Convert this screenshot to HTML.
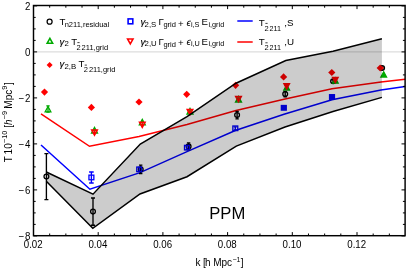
<!DOCTYPE html><html><head><meta charset="utf-8"><style>html,body{margin:0;padding:0;background:#fff}body{width:407px;height:270px;overflow:hidden}</style></head><body><svg width="407" height="270" viewBox="0 0 407 270" style="display:block;will-change:transform;font-family:'Liberation Sans',sans-serif">
<rect width="407" height="270" fill="#fff"/>
<line x1="33.5" x2="405.1" y1="51.9" y2="51.9" stroke="#d4d4d4" stroke-width="1"/>
<polyline points="41,113.8 89.5,146.3 139,136.5 187,124.5 236,110.5 284,99.3 332,88.7 381,81.9 405.1,79.2" fill="none" stroke="#f00" stroke-width="1.5"/>
<polyline points="41,145 89.9,189.2 140,172.6 187,151.6 235.3,130.5 284,114.2 332,99.8 381,90.0 405.1,86.5" fill="none" stroke="#00f" stroke-width="1.5"/>
<path d="M46.4 153.6V199.6M44.4 153.6h4.0M44.4 199.6h4.0" stroke="#000" stroke-width="1.35" fill="none"/>
<circle cx="46.4" cy="176.6" r="2.4" fill="none" stroke="#000" stroke-width="1.3"/>
<path d="M93 198.0V225.2M91.0 198.0h4.0M91.0 225.2h4.0" stroke="#000" stroke-width="1.35" fill="none"/>
<circle cx="93" cy="211.6" r="2.4" fill="none" stroke="#000" stroke-width="1.3"/>
<path d="M140.7 165.10000000000002V173.5M139.0 165.10000000000002h3.4M139.0 173.5h3.4" stroke="#000" stroke-width="1.35" fill="none"/>
<circle cx="140.7" cy="169.3" r="2.4" fill="none" stroke="#000" stroke-width="1.3"/>
<path d="M188.6 142.9V149.9M186.9 142.9h3.4M186.9 149.9h3.4" stroke="#000" stroke-width="1.35" fill="none"/>
<circle cx="188.6" cy="146.4" r="2.4" fill="none" stroke="#000" stroke-width="1.3"/>
<path d="M237.1 111.3V118.89999999999999M235.4 111.3h3.4M235.4 118.89999999999999h3.4" stroke="#000" stroke-width="1.35" fill="none"/>
<circle cx="237.1" cy="115.1" r="2.4" fill="none" stroke="#000" stroke-width="1.3"/>
<path d="M285.2 91.5V96.69999999999999M283.5 91.5h3.4M283.5 96.69999999999999h3.4" stroke="#000" stroke-width="1.35" fill="none"/>
<circle cx="285.2" cy="94.1" r="2.4" fill="none" stroke="#000" stroke-width="1.3"/>
<path d="M333.1 79.7V82.7M331.40000000000003 79.7h3.4M331.40000000000003 82.7h3.4" stroke="#000" stroke-width="1.35" fill="none"/>
<circle cx="333.1" cy="81.2" r="2.4" fill="none" stroke="#000" stroke-width="1.3"/>
<path d="M382.1 67.0V69.0M380.40000000000003 67.0h3.4M380.40000000000003 69.0h3.4" stroke="#000" stroke-width="1.35" fill="none"/>
<circle cx="382.1" cy="68.0" r="2.4" fill="none" stroke="#000" stroke-width="1.3"/>
<path d="M48.0 105.85V112.15M46.3 105.85h3.4M46.3 112.15h3.4" stroke="#0a0" stroke-width="1.35" fill="none"/>
<polygon points="48.0,106.55 50.85,111.85 45.15,111.85" fill="none" stroke="#0a0" stroke-width="1.3"/>
<path d="M94.5 127.9V132.9M93.2 130.0h2.6" stroke="#0a0" stroke-width="1.3" fill="none"/>
<polygon points="94.5,127.7 97.3,132.9 91.7,132.9" fill="none" stroke="#0a0" stroke-width="1.5"/>
<path d="M142.3 119.8V124.8M141.0 121.89999999999999h2.6" stroke="#0a0" stroke-width="1.3" fill="none"/>
<polygon points="142.3,119.6 145.10000000000002,124.8 139.5,124.8" fill="none" stroke="#0a0" stroke-width="1.5"/>
<path d="M190.0 108.9V113.9M188.7 111.0h2.6" stroke="#0a0" stroke-width="1.3" fill="none"/>
<polygon points="190.0,108.7 192.8,113.9 187.2,113.9" fill="none" stroke="#0a0" stroke-width="1.5"/>
<path d="M238.5 96.9V101.9M237.2 99.0h2.6" stroke="#0a0" stroke-width="1.3" fill="none"/>
<polygon points="238.5,96.7 241.3,101.9 235.7,101.9" fill="none" stroke="#0a0" stroke-width="1.5"/>
<polygon points="286.7,84.8 289.55,90.1 283.84999999999997,90.1" fill="#0a0" stroke="#0a0" stroke-width="1.3"/>
<polygon points="335.3,77.89999999999999 338.15000000000003,83.19999999999999 332.45,83.19999999999999" fill="#0a0" stroke="#0a0" stroke-width="1.3"/>
<polygon points="383.7,71.8 386.55,77.1 380.84999999999997,77.1" fill="#0a0" stroke="#0a0" stroke-width="1.3"/>
<polygon points="44.5,88.5 48.1,92.1 44.5,95.69999999999999 40.9,92.1" fill="#f00"/>
<polygon points="91.4,103.80000000000001 95.0,107.4 91.4,111.0 87.80000000000001,107.4" fill="#f00"/>
<polygon points="139,98.4 142.6,102 139,105.6 135.4,102" fill="#f00"/>
<polygon points="186.7,90.7 190.29999999999998,94.3 186.7,97.89999999999999 183.1,94.3" fill="#f00"/>
<polygon points="235.6,81.7 239.2,85.3 235.6,88.89999999999999 232.0,85.3" fill="#f00"/>
<polygon points="283.6,73.30000000000001 287.20000000000005,76.9 283.6,80.5 280.0,76.9" fill="#f00"/>
<polygon points="331.8,68.9 335.40000000000003,72.5 331.8,76.1 328.2,72.5" fill="#f00"/>
<polygon points="380.2,64.4 383.8,68.0 380.2,71.6 376.59999999999997,68.0" fill="#f00"/>
<path d="M91.4 171.95V182.95M89.10000000000001 171.95h4.6M89.10000000000001 182.95h4.6" stroke="#00f" stroke-width="1.35" fill="none"/>
<rect x="88.95" y="175.14999999999998" width="4.9" height="4.6000000000000005" fill="none" stroke="#00f" stroke-width="1.3"/>
<path d="M139.2 167.35V171.35M137.7 167.35h3.0M137.7 171.35h3.0" stroke="#00f" stroke-width="1.35" fill="none"/>
<rect x="136.75" y="167.04999999999998" width="4.9" height="4.6000000000000005" fill="none" stroke="#00f" stroke-width="1.3"/>
<path d="M186.95 145.85V149.45000000000002M185.45 145.85h3.0M185.45 149.45000000000002h3.0" stroke="#00f" stroke-width="1.35" fill="none"/>
<rect x="184.5" y="145.35" width="4.9" height="4.6000000000000005" fill="none" stroke="#00f" stroke-width="1.3"/>
<path d="M235.3 126.80000000000001V129.8M233.8 126.80000000000001h3.0M233.8 129.8h3.0" stroke="#00f" stroke-width="1.35" fill="none"/>
<rect x="232.85000000000002" y="126.00000000000001" width="4.9" height="4.6000000000000005" fill="none" stroke="#00f" stroke-width="1.3"/>
<rect x="281.35" y="105.5" width="4.9" height="4.6000000000000005" fill="#00f" stroke="#00f" stroke-width="1.3"/>
<rect x="329.55" y="94.7" width="4.9" height="4.6000000000000005" fill="#00f" stroke="#00f" stroke-width="1.3"/>
<path d="M94.5 130.0V135.0M93.2 132.9h2.6" stroke="#f00" stroke-width="1.3" fill="none"/>
<polygon points="94.5,135.2 97.3,130.0 91.7,130.0" fill="none" stroke="#f00" stroke-width="1.5"/>
<path d="M142.3 122.25V127.25M141.0 125.15h2.6" stroke="#f00" stroke-width="1.3" fill="none"/>
<polygon points="142.3,127.45 145.10000000000002,122.25 139.5,122.25" fill="none" stroke="#f00" stroke-width="1.5"/>
<path d="M190.0 109.5V114.5M188.7 112.4h2.6" stroke="#f00" stroke-width="1.3" fill="none"/>
<polygon points="190.0,114.7 192.8,109.5 187.2,109.5" fill="none" stroke="#f00" stroke-width="1.5"/>
<path d="M238.5 96.4V101.4M237.2 99.30000000000001h2.6" stroke="#f00" stroke-width="1.3" fill="none"/>
<polygon points="238.5,101.60000000000001 241.3,96.4 235.7,96.4" fill="none" stroke="#f00" stroke-width="1.5"/>
<polygon points="286.7,89.05 289.55,83.75 283.84999999999997,83.75" fill="#f00" stroke="#f00" stroke-width="1.3"/>
<polygon points="335.3,82.60000000000001 338.15000000000003,77.30000000000001 332.45,77.30000000000001" fill="#f00" stroke="#f00" stroke-width="1.3"/>
<polygon points="46.3,172 93,194.2 140.3,144 187,116.7 236,83.2 285.8,60.5 333,51.2 381.9,38.8 381.9,97.4 333,111.5 285,127 236.3,146.1 187,176.7 140,194 92.8,228.3 46.3,181.2" fill="#000" fill-opacity="0.2"/>
<polyline points="46.3,172 93,194.2 140.3,144 187,116.7 236,83.2 285.8,60.5 333,51.2 381.9,38.8" fill="none" stroke="#000" stroke-width="1.5" stroke-linejoin="miter"/>
<polyline points="46.3,181.2 92.8,228.3 140,194 187,176.7 236.3,146.1 285,127 333,111.5 381.9,97.4" fill="none" stroke="#000" stroke-width="1.5" stroke-linejoin="miter"/>
<rect x="33.5" y="5.5" width="371.6" height="230.2" fill="none" stroke="#000" stroke-width="1.45"/>
<path d="M33.50 235.7v-3.6M33.50 5.5v3.6M49.68 235.7v-2.2M49.68 5.5v2.2M65.85 235.7v-2.2M65.85 5.5v2.2M82.03 235.7v-2.2M82.03 5.5v2.2M98.20 235.7v-3.6M98.20 5.5v3.6M114.37 235.7v-2.2M114.37 5.5v2.2M130.55 235.7v-2.2M130.55 5.5v2.2M146.73 235.7v-2.2M146.73 5.5v2.2M162.90 235.7v-3.6M162.90 5.5v3.6M179.08 235.7v-2.2M179.08 5.5v2.2M195.25 235.7v-2.2M195.25 5.5v2.2M211.42 235.7v-2.2M211.42 5.5v2.2M227.60 235.7v-3.6M227.60 5.5v3.6M243.78 235.7v-2.2M243.78 5.5v2.2M259.95 235.7v-2.2M259.95 5.5v2.2M276.12 235.7v-2.2M276.12 5.5v2.2M292.30 235.7v-3.6M292.30 5.5v3.6M308.48 235.7v-2.2M308.48 5.5v2.2M324.65 235.7v-2.2M324.65 5.5v2.2M340.82 235.7v-2.2M340.82 5.5v2.2M357.00 235.7v-3.6M357.00 5.5v3.6M373.18 235.7v-2.2M373.18 5.5v2.2M389.35 235.7v-2.2M389.35 5.5v2.2M33.5 235.90h3.6M405.1 235.90h-3.6M33.5 224.40h2.2M405.1 224.40h-2.2M33.5 212.90h2.2M405.1 212.90h-2.2M33.5 201.40h2.2M405.1 201.40h-2.2M33.5 189.90h3.6M405.1 189.90h-3.6M33.5 178.40h2.2M405.1 178.40h-2.2M33.5 166.90h2.2M405.1 166.90h-2.2M33.5 155.40h2.2M405.1 155.40h-2.2M33.5 143.90h3.6M405.1 143.90h-3.6M33.5 132.40h2.2M405.1 132.40h-2.2M33.5 120.90h2.2M405.1 120.90h-2.2M33.5 109.40h2.2M405.1 109.40h-2.2M33.5 97.90h3.6M405.1 97.90h-3.6M33.5 86.40h2.2M405.1 86.40h-2.2M33.5 74.90h2.2M405.1 74.90h-2.2M33.5 63.40h2.2M405.1 63.40h-2.2M33.5 51.90h3.6M405.1 51.90h-3.6M33.5 40.40h2.2M405.1 40.40h-2.2M33.5 28.90h2.2M405.1 28.90h-2.2M33.5 17.40h2.2M405.1 17.40h-2.2M33.5 5.90h3.6M405.1 5.90h-3.6" stroke="#000" stroke-width="1" fill="none"/>
<text transform="translate(33.20,247.6) scale(0.925,1)" font-size="10.5" text-anchor="middle">0.02</text>
<text transform="translate(97.90,247.6) scale(0.925,1)" font-size="10.5" text-anchor="middle">0.04</text>
<text transform="translate(162.60,247.6) scale(0.925,1)" font-size="10.5" text-anchor="middle">0.06</text>
<text transform="translate(227.30,247.6) scale(0.925,1)" font-size="10.5" text-anchor="middle">0.08</text>
<text transform="translate(292.00,247.6) scale(0.925,1)" font-size="10.5" text-anchor="middle">0.10</text>
<text transform="translate(356.70,247.6) scale(0.925,1)" font-size="10.5" text-anchor="middle">0.12</text>
<text transform="translate(30.5,10.00) scale(0.925,1)" font-size="10.5" text-anchor="end">2</text>
<text transform="translate(30.5,56.00) scale(0.925,1)" font-size="10.5" text-anchor="end">0</text>
<text transform="translate(30.5,102.00) scale(0.925,1)" font-size="10.5" text-anchor="end">2</text>
<text transform="translate(18.3,102.00) scale(0.925,1)" font-size="10.5">−</text>
<text transform="translate(30.5,148.00) scale(0.925,1)" font-size="10.5" text-anchor="end">4</text>
<text transform="translate(18.3,148.00) scale(0.925,1)" font-size="10.5">−</text>
<text transform="translate(30.5,194.00) scale(0.925,1)" font-size="10.5" text-anchor="end">6</text>
<text transform="translate(18.3,194.00) scale(0.925,1)" font-size="10.5">−</text>
<text transform="translate(30.5,240.00) scale(0.925,1)" font-size="10.5" text-anchor="end">8</text>
<text transform="translate(18.3,240.00) scale(0.925,1)" font-size="10.5">−</text>
<text x="195.4" y="266.4" font-size="10">k</text>
<text x="202.9" y="266.4" font-size="10">[</text>
<text x="204.9" y="266.4" font-size="10">h</text>
<text x="213.2" y="266.4" font-size="10">Mpc</text>
<text x="232.4" y="261.59999999999997" font-size="7">−1</text>
<text x="240.8" y="266.4" font-size="10">]</text>
<text transform="translate(11.6,162.3) rotate(-90)" font-size="10">T</text>
<text transform="translate(11.6,154.4) rotate(-90)" font-size="10">10</text>
<text transform="translate(7.1,143.1) rotate(-90)" font-size="7.3">−10</text>
<text transform="translate(11.6,127.8) rotate(-90)" font-size="10">[</text>
<text transform="translate(11.6,125.0) rotate(-90)" font-size="10" font-style="italic">h</text>
<text transform="translate(7.1,119.3) rotate(-90)" font-size="7.3">−9</text>
<text transform="translate(11.6,108.7) rotate(-90)" font-size="10">Mpc</text>
<text transform="translate(7.1,89.7) rotate(-90)" font-size="7.3">9</text>
<text transform="translate(11.6,84.9) rotate(-90)" font-size="10">]</text>
<text x="209.3" y="219" font-size="16.6">PPM</text>
<circle cx="49.6" cy="21.7" r="2.5" fill="none" stroke="#000" stroke-width="1.25"/>
<text x="59.4" y="25.3" font-size="9.7">T</text>
<text x="64.7" y="26.900000000000002" font-size="7.5">n211,residual</text>
<polygon points="49.9,38.3 52.65,43.3 47.15,43.3" fill="none" stroke="#0a0" stroke-width="1.55"/>
<text x="59.4" y="44.800000000000004" font-size="9.6" font-style="italic" stroke="#000" stroke-width="0.12">γ</text>
<text x="64.5" y="46.400000000000006" font-size="7.8">2</text>
<text x="71.2" y="44.7" font-size="9.7">T</text>
<text x="76.5" y="49.900000000000006" font-size="7.5">2</text>
<line x1="77.4" x2="79.6" y1="42.60000000000001" y2="42.60000000000001" stroke="#000" stroke-width="0.75"/>
<text x="81.6" y="49.900000000000006" font-size="7.5">211,grid</text>
<polygon points="49.6,62.0 52.6,65 49.6,68.0 46.6,65" fill="#f00"/>
<text x="59.4" y="67.3" font-size="9.6" font-style="italic" stroke="#000" stroke-width="0.12">γ</text>
<text x="64.5" y="68.9" font-size="7.8">2,B</text>
<text x="78.5" y="67.2" font-size="9.7">T</text>
<text x="83.8" y="72.4" font-size="7.5">2</text>
<line x1="84.7" x2="86.89999999999999" y1="65.10000000000001" y2="65.10000000000001" stroke="#000" stroke-width="0.75"/>
<text x="88.9" y="72.4" font-size="7.5">211,grid</text>
<rect x="128.1" y="18.900000000000002" width="4.7" height="4.9" fill="none" stroke="#00f" stroke-width="1.6"/>
<polygon points="130.3,43.900000000000006 133.05,38.900000000000006 127.55000000000001,38.900000000000006" fill="none" stroke="#f00" stroke-width="1.55"/>
<text x="140.6" y="25.400000000000002" font-size="9.6" font-style="italic" stroke="#000" stroke-width="0.12">γ</text>
<text x="144.6" y="26.900000000000002" font-size="7.8">2,S</text>
<text x="158.4" y="25.3" font-size="9.7">Γ</text>
<text x="163.4" y="27.2" font-size="7.5">grid</text>
<text x="178.0" y="26.5" font-size="9.7">+</text>
<text transform="translate(185.9,25.5) skewX(-12)" font-size="9.8">ϵ</text>
<text x="190.9" y="26.900000000000002" font-size="7.3">i,S</text>
<text x="201.4" y="25.3" font-size="9.7">E</text>
<text x="208.4" y="26.900000000000002" font-size="7.3">i,grid</text>
<text x="258.8" y="25.6" font-size="9.8">T</text>
<text x="264.5" y="30.700000000000003" font-size="7.5">2</text>
<line x1="265.4" x2="267.6" y1="23.400000000000002" y2="23.400000000000002" stroke="#000" stroke-width="0.75"/>
<text x="269.6" y="30.700000000000003" font-size="7.2">211</text>
<text x="284.3" y="25.6" font-size="9.8">,</text>
<text x="287.0" y="25.6" font-size="9.8">S</text>
<text x="140.6" y="44.800000000000004" font-size="9.6" font-style="italic" stroke="#000" stroke-width="0.12">γ</text>
<text x="144.6" y="46.300000000000004" font-size="7.8">2,U</text>
<text x="158.4" y="44.7" font-size="9.7">Γ</text>
<text x="163.4" y="46.6" font-size="7.5">grid</text>
<text x="178.0" y="45.900000000000006" font-size="9.7">+</text>
<text transform="translate(185.9,44.900000000000006) skewX(-12)" font-size="9.8">ϵ</text>
<text x="190.9" y="46.300000000000004" font-size="7.3">i,U</text>
<text x="201.4" y="44.7" font-size="9.7">E</text>
<text x="208.4" y="46.300000000000004" font-size="7.3">i,grid</text>
<text x="258.8" y="45.0" font-size="9.8">T</text>
<text x="264.5" y="50.1" font-size="7.5">2</text>
<line x1="265.4" x2="267.6" y1="42.800000000000004" y2="42.800000000000004" stroke="#000" stroke-width="0.75"/>
<text x="269.6" y="50.1" font-size="7.2">211</text>
<text x="284.3" y="45.0" font-size="9.8">,</text>
<text x="287.0" y="45.0" font-size="9.8">U</text>
<line x1="237.3" x2="252.7" y1="21.0" y2="21.0" stroke="#00f" stroke-width="1.5"/>
<line x1="237.3" x2="252.7" y1="42.0" y2="42.0" stroke="#f00" stroke-width="1.5"/>
</svg></body></html>
